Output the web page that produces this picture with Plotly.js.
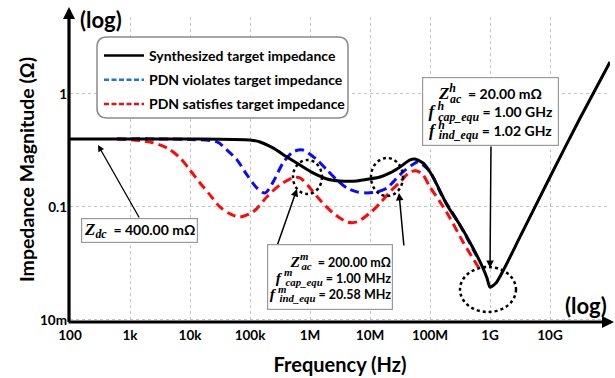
<!DOCTYPE html>
<html><head><meta charset="utf-8">
<script src="https://cdn.plot.ly/plotly-3.0.1.min.js"></script>
<style>html,body{margin:0;padding:0;background:#fff}</style>
</head><body><div id="chart" style="width:615px;height:378px"></div>
<script>
// ---- data ----
const xTickVals = [1e2, 1e3, 1e4, 1e5, 1e6, 1e7, 1e8, 1e9, 1e10];
const xTickText = ['100', '1k', '10k', '100k', '1M', '10M', '100M', '1G', '10G'];
const yTickVals = [0.01, 0.1, 1];
const yTickText = ['10m', '0.1', '1'];
const legendNames = ['Synthesized target impedance', 'PDN violates target impedance', 'PDN satisfies target impedance'];

const fTarget = [100, 1e4, 1e5, 147000, 240000, 414000, 680000, 1.12e6, 1.92e6, 3.16e6, 6.07e6, 1e7, 1.47e7, 2.15e7, 3.16e7, 4.64e7, 5.62e7, 7.64e7, 1e8, 1.31e8, 1.92e8, 3.16e8, 5.21e8, 7.64e8, 8.91e8, 1e9, 1.26e9, 1.78e9, 3.16e9, 1e10, 3.16e10, 1e11];
const zTarget = [0.4, 0.4, 0.392, 0.376, 0.333, 0.277, 0.235, 0.200, 0.177, 0.170, 0.170, 0.177, 0.184, 0.200, 0.226, 0.261, 0.266, 0.245, 0.204, 0.157, 0.104, 0.0693, 0.0434, 0.0288, 0.0235, 0.0195, 0.0212, 0.0294, 0.0543, 0.184, 0.61, 1.92];

const fViolate = [607, 1e4, 28200, 41400, 60700, 89100, 131000, 178000, 242000, 355000, 521000, 760000, 1.31e6, 1.92e6, 2.82e6, 4.14e6, 6.07e6, 8.91e6, 1.31e7, 1.92e7, 2.42e7, 3.55e7, 5.01e7, 6.3e7, 1e8, 1.58e8, 3.16e8, 6.31e8];
const zViolate = [0.4, 0.396, 0.376, 0.319, 0.261, 0.192, 0.147, 0.133, 0.166, 0.245, 0.307, 0.319, 0.261, 0.212, 0.173, 0.147, 0.136, 0.133, 0.136, 0.147, 0.166, 0.204, 0.235, 0.25, 0.205, 0.126, 0.069, 0.035];

const fSatisfy = [607, 2150, 4140, 6810, 1e4, 14700, 21500, 31600, 46400, 68100, 112000, 192000, 316000, 521000, 681000, 1e6, 1.47e6, 2.42e6, 4.14e6, 6.07e6, 1e7, 1.47e7, 2.15e7, 3.16e7, 4.64e7, 6.07e7, 7.64e7, 1e8, 1.47e8, 2.15e8, 3.55e8, 6.07e8, 7.08e8];
const zSatisfy = [0.4, 0.376, 0.333, 0.272, 0.212, 0.163, 0.128, 0.100, 0.0867, 0.0816, 0.0903, 0.123, 0.157, 0.181, 0.181, 0.147, 0.115, 0.0885, 0.0737, 0.0737, 0.0885, 0.108, 0.136, 0.166, 0.204, 0.208, 0.192, 0.150, 0.111, 0.080, 0.049, 0.0307, 0.027];

// ---- layout helpers (pixel -> paper) ----
const L = 70, R = 610, T = 17, B = 322;
const px = v => (v - L) / (R - L);
const py = v => (B - v) / (B - T);

const FONT = 'Lato';
function mth(base, sup, sub, shift, size) {
  let s = `<span style="font-family:'Liberation Serif';font-size:${size}px"><b><i>${base}</i></b>`;
  if (sup) s += `<sup><b><i><span style="letter-spacing:-${shift}px">${sup}</span></i></b></sup>`;
  s += `<sub><b><i>${sub}</i></b></sub></span>`;
  return s;
}
const boxZdc = mth('Z', '', 'dc', 0, 17) + '<b>\u00a0 = 400.00 mΩ</b>';
const boxMid = [mth('Z', 'm', 'ac', 7, 15.5) + '<b>\u00a0 = 200.00 mΩ</b>',
                mth('f\u2009', 'm', 'cap_equ', 7, 15.5) + '<b> = 1.00 MHz</b>',
                mth('f\u2009', 'm', 'ind_equ', 7, 15.5) + '<b> = 20.58 MHz</b>'].join('<br>');
const boxHigh = [mth('Z', 'h', 'ac', 6, 17) + '<b>\u00a0 = 20.00 mΩ</b>',
                 mth('f\u2009', 'h', 'cap_equ', 6, 17) + '<b> = 1.00 GHz</b>',
                 mth('f\u2009', 'h', 'ind_equ', 6, 17) + '<b> = 1.02 GHz</b>'].join('<br>');

function arrow(tipX, tipY, tailX, tailY, w, head, size) {
  return {xref: 'paper', yref: 'paper', x: px(tipX), y: py(tipY), ax: tailX - tipX, ay: tailY - tipY,
    axref: 'pixel', ayref: 'pixel', text: '', showarrow: true, arrowhead: head, arrowsize: size,
    arrowwidth: w, arrowcolor: '#000', standoff: 0, startstandoff: 0};
}
function textBox(cx, cy, w, h, text, align, size) {
  return {xref: 'paper', yref: 'paper', x: px(cx), y: py(cy), xanchor: 'center', yanchor: 'middle',
    width: w - 2, height: h - 2, valign: 'middle',
    text: text, showarrow: false, align: align, bgcolor: '#fff', bordercolor: '#9a9a9a', borderwidth: 1.2,
    borderpad: 1, font: {family: FONT, size: size, color: '#000'}};
}
function roundRect(x0, y0, x1, y1, r) {
  const P = (x, y) => px(x) + ',' + py(y);
  return `M${P(x0 + r, y0)} L${P(x1 - r, y0)} Q${P(x1, y0)} ${P(x1, y0 + r)} L${P(x1, y1 - r)} Q${P(x1, y1)} ${P(x1 - r, y1)} L${P(x0 + r, y1)} Q${P(x0, y1)} ${P(x0, y1 - r)} L${P(x0, y0 + r)} Q${P(x0, y0)} ${P(x0 + r, y0)} Z`;
}
function ellipse(x0, y0, x1, y1) {
  return {type: 'circle', xref: 'paper', yref: 'paper', x0: px(x0), x1: px(x1), y0: py(y1), y1: py(y0),
    line: {color: '#000', width: 2.5, dash: 'dot'}, layer: 'above'};
}

const traces = [
  {x: fViolate, y: zViolate, mode: 'lines', line: {color: '#0a0aff', width: 3, dash: '9px,5px', shape: 'spline', smoothing: 0.8}, showlegend: false, hoverinfo: 'skip'},
  {x: fSatisfy, y: zSatisfy, mode: 'lines', line: {color: '#ff0a0a', width: 3, dash: '9px,5px', shape: 'spline', smoothing: 0.8}, showlegend: false, hoverinfo: 'skip'},
  {x: fTarget, y: zTarget, mode: 'lines', line: {color: '#000', width: 3, shape: 'spline', smoothing: 0.6}, showlegend: false, hoverinfo: 'skip'},
  {x: [null], y: [null], mode: 'lines', name: legendNames[0], legendgroup: 'a', line: {color: '#000', width: 2.5}},
  {x: [null], y: [null], mode: 'lines', name: legendNames[1], legendgroup: 'b', line: {color: '#1f78c8', width: 2.5, dash: '5px,2.5px'}},
  {x: [null], y: [null], mode: 'lines', name: legendNames[2], legendgroup: 'c', line: {color: '#e8101a', width: 2.5, dash: '5px,2.5px'}}
];

const layout = {
  width: 615, height: 378,
  margin: {l: L, r: 615 - R, t: T, b: 378 - B},
  paper_bgcolor: '#fff', plot_bgcolor: '#fff',
  font: {family: FONT, color: '#000'},
  showlegend: true,
  legend: {x: px(99), y: py(40), xanchor: 'left', yanchor: 'top', bgcolor: 'rgba(0,0,0,0)', borderwidth: 0,
    font: {family: FONT, size: 14, weight: 700, color: '#000'}, traceorder: 'grouped', tracegroupgap: 3, itemwidth: 40},
  xaxis: {type: 'log', range: [2, 11], tickvals: xTickVals, ticktext: xTickText, showline: false, zeroline: false,
    showgrid: true, gridcolor: '#c4c4c4', griddash: 'dot', gridwidth: 1, ticks: '', ticklabelstandoff: 3,
    tickfont: {family: FONT, size: 13.5, weight: 700, color: '#000'},
    title: {text: 'Frequency (Hz)', font: {family: FONT, size: 20, weight: 700, color: '#000'}, standoff: 16}},
  yaxis: {type: 'log', range: [-2.018, 0.681], tickvals: yTickVals, ticktext: yTickText, showline: false, zeroline: false,
    showgrid: true, gridcolor: '#c4c4c4', griddash: 'dot', gridwidth: 1, ticks: '', ticklabelstandoff: 2,
    tickfont: {family: FONT, size: 13.5, weight: 700, color: '#000'},
    title: {text: 'Impedance Magnitude (Ω)', font: {family: FONT, size: 19.5, weight: 700, color: '#000'}, standoff: 0}},
  shapes: [
    {type: 'path', xref: 'paper', yref: 'paper', path: roundRect(97, 37, 348, 118, 10), line: {color: '#8a8a8a', width: 1.5}, fillcolor: '#fff', layer: 'above'},
    ellipse(293, 160, 322, 194),
    ellipse(371, 158, 403, 196),
    ellipse(460, 267, 516, 312)
  ],
  annotations: [
    arrow(614, 322, 67, 322, 3.2, 2, 0.75),
    arrow(69, 7, 69, 323.5, 3.2, 2, 0.75),
    {xref: 'paper', yref: 'paper', x: px(101), y: py(4), xanchor: 'center', yanchor: 'top', text: '<b>(log)</b>', showarrow: false, font: {family: FONT, size: 22, color: '#000'}},
    {xref: 'paper', yref: 'paper', x: px(586), y: py(321), xanchor: 'center', yanchor: 'bottom', text: '<b>(log)</b>', showarrow: false, font: {family: FONT, size: 22, color: '#000'}},
    arrow(98, 145, 140, 219, 1.3, 2, 1),
    arrow(297, 189, 277, 246, 1.5, 2, 1),
    arrow(399, 193, 404, 247, 1.5, 2, 1),
    arrow(490, 268, 491, 145, 1.5, 2, 1),
    textBox(139.5, 230.5, 115, 23, boxZdc, 'center', 14),
    textBox(330, 277, 124, 64, boxMid, 'right', 12.5),
    textBox(490.5, 111.5, 135, 67, boxHigh, 'center', 14)
  ]
};

Plotly.newPlot('chart', traces, layout, {displayModeBar: false, staticPlot: true});
</script></body></html>
